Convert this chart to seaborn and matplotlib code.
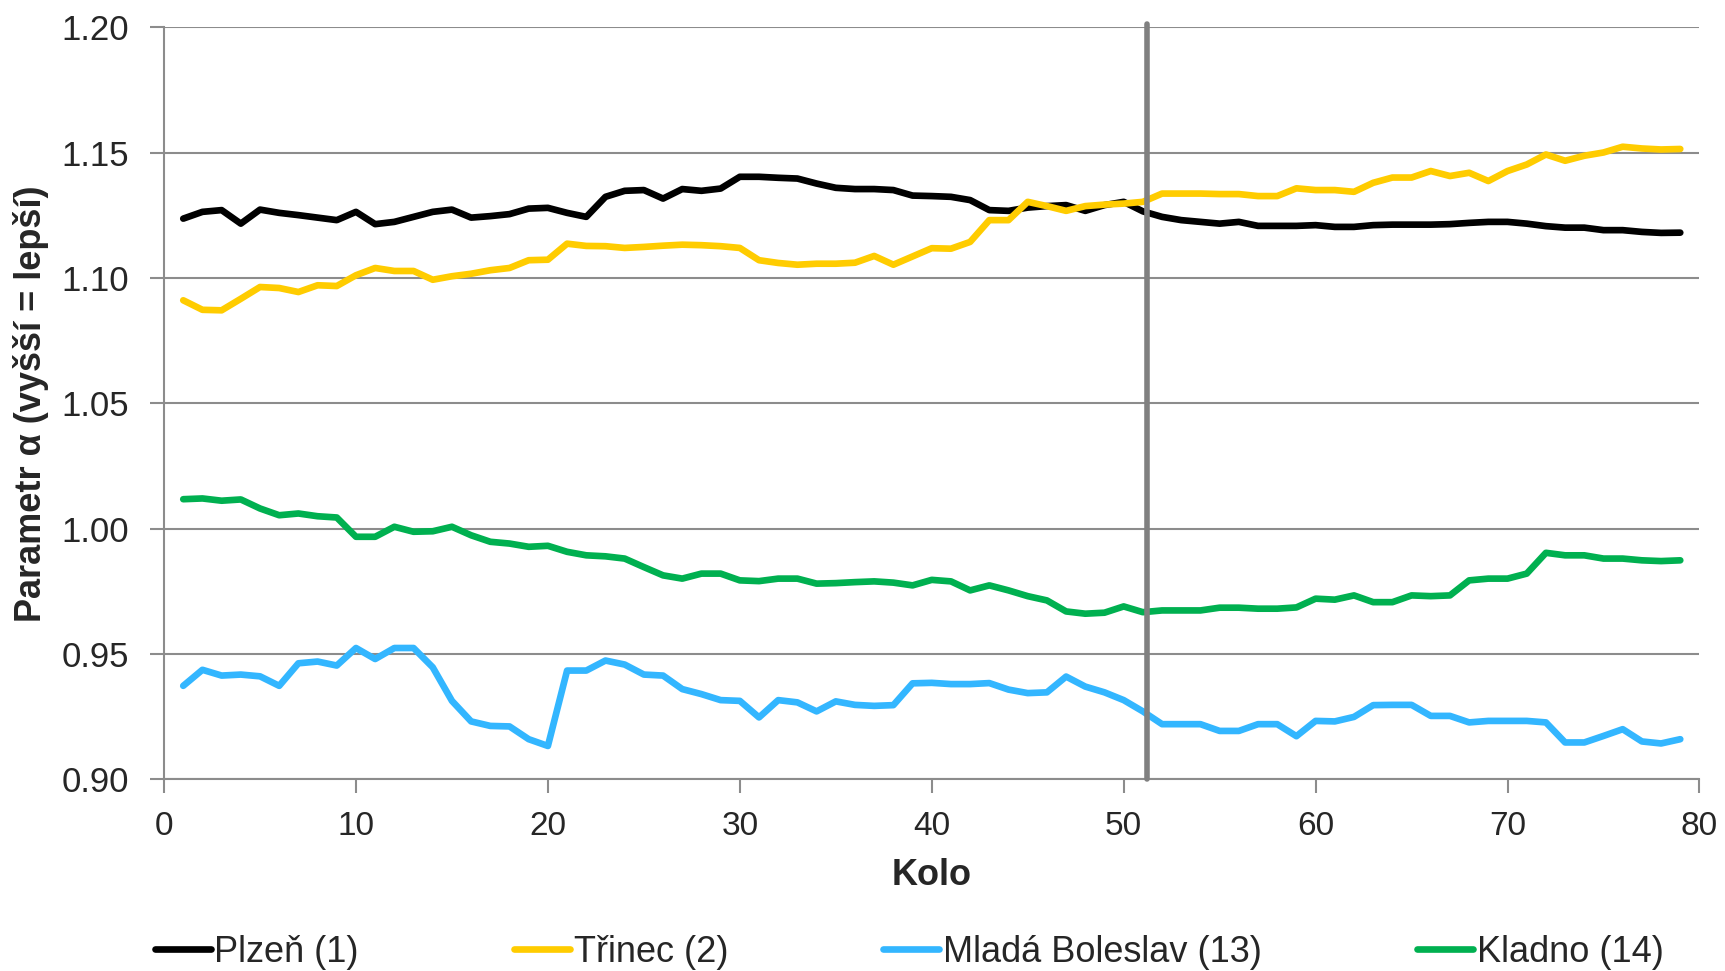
import pandas as pd
import seaborn as sns
import matplotlib.pyplot as plt

# kola 1..79
kolo = list(range(1, 80))

plzen = [1.1237, 1.1264, 1.1271, 1.1217, 1.1273, 1.1260, 1.1251, 1.1241, 1.1231, 1.1264,
         1.1215, 1.1224, 1.1244, 1.1264, 1.1273, 1.1241, 1.1247, 1.1255, 1.1277, 1.1280,
         1.1260, 1.1244, 1.1324, 1.1348, 1.1351, 1.1317, 1.1355, 1.1348, 1.1357, 1.1404,
         1.1404, 1.1400, 1.1397, 1.1377, 1.1360, 1.1355, 1.1355, 1.1351, 1.1329, 1.1327,
         1.1324, 1.1311, 1.1271, 1.1268, 1.1281, 1.1287, 1.1291, 1.1268, 1.1291, 1.1304,
         1.1266, 1.1244, 1.1231, 1.1224, 1.1217, 1.1224, 1.1208, 1.1208, 1.1208, 1.1211,
         1.1204, 1.1204, 1.1211, 1.1213, 1.1213, 1.1213, 1.1215, 1.1220, 1.1224, 1.1224,
         1.1217, 1.1207, 1.1201, 1.1201, 1.1191, 1.1191, 1.1184, 1.1180, 1.1181]

trinec = [1.0911, 1.0873, 1.0871, 1.0917, 1.0964, 1.0960, 1.0944, 1.0971, 1.0968, 1.1011,
          1.1040, 1.1028, 1.1028, 1.0993, 1.1007, 1.1017, 1.1031, 1.1040, 1.1071, 1.1073,
          1.1137, 1.1128, 1.1127, 1.1120, 1.1124, 1.1129, 1.1133, 1.1131, 1.1127, 1.1120,
          1.1071, 1.1060, 1.1053, 1.1057, 1.1057, 1.1061, 1.1088, 1.1053, 1.1086, 1.1119,
          1.1117, 1.1144, 1.1231, 1.1231, 1.1304, 1.1287, 1.1268, 1.1287, 1.1293, 1.1297,
          1.1304, 1.1337, 1.1337, 1.1337, 1.1335, 1.1335, 1.1327, 1.1327, 1.1358, 1.1351,
          1.1351, 1.1344, 1.1380, 1.1401, 1.1401, 1.1427, 1.1407, 1.1420, 1.1387, 1.1427,
          1.1453, 1.1493, 1.1468, 1.1488, 1.1501, 1.1524, 1.1517, 1.1513, 1.1515]

mlada_boleslav = [0.9372, 0.9436, 0.9413, 0.9417, 0.9410, 0.9372, 0.9462, 0.9469, 0.9453, 0.9523,
                  0.9479, 0.9523, 0.9523, 0.9446, 0.9312, 0.9230, 0.9212, 0.9210, 0.9159, 0.9132,
                  0.9433, 0.9433, 0.9473, 0.9457, 0.9417, 0.9413, 0.9359, 0.9339, 0.9315, 0.9312,
                  0.9246, 0.9315, 0.9306, 0.9270, 0.9310, 0.9296, 0.9292, 0.9295, 0.9382, 0.9384,
                  0.9379, 0.9379, 0.9383, 0.9357, 0.9343, 0.9346, 0.9409, 0.9369, 0.9346, 0.9315,
                  0.9270, 0.9219, 0.9219, 0.9219, 0.9192, 0.9192, 0.9219, 0.9219, 0.9171, 0.9232,
                  0.9230, 0.9248, 0.9295, 0.9296, 0.9296, 0.9252, 0.9252, 0.9226, 0.9232, 0.9232,
                  0.9232, 0.9226, 0.9146, 0.9146, 0.9172, 0.9199, 0.9150, 0.9142, 0.9159]

kladno = [1.0117, 1.0120, 1.0111, 1.0116, 1.0080, 1.0053, 1.0060, 1.0049, 1.0044, 0.9967,
          0.9967, 1.0007, 0.9987, 0.9989, 1.0007, 0.9973, 0.9947, 0.9940, 0.9927, 0.9931,
          0.9907, 0.9893, 0.9889, 0.9880, 0.9846, 0.9813, 0.9800, 0.9820, 0.9820, 0.9793,
          0.9790, 0.9800, 0.9800, 0.9780, 0.9782, 0.9786, 0.9789, 0.9784, 0.9773, 0.9795,
          0.9789, 0.9753, 0.9773, 0.9753, 0.9730, 0.9713, 0.9669, 0.9660, 0.9664, 0.9689,
          0.9666, 0.9673, 0.9673, 0.9673, 0.9684, 0.9684, 0.9680, 0.9680, 0.9685, 0.9720,
          0.9716, 0.9733, 0.9706, 0.9706, 0.9733, 0.9730, 0.9733, 0.9793, 0.9800, 0.9800,
          0.9820, 0.9903, 0.9893, 0.9893, 0.9880, 0.9880, 0.9873, 0.9870, 0.9873]

tymy = ["Plzeň (1)", "Třinec (2)", "Mladá Boleslav (13)", "Kladno (14)"]
barvy = ["#000000", "#FFCC00", "#33B6FF", "#00B050"]
hodnoty = [plzen, trinec, mlada_boleslav, kladno]

x_ticks = [0, 10, 20, 30, 40, 50, 60, 70, 80]
y_ticks = [0.90, 0.95, 1.00, 1.05, 1.10, 1.15, 1.20]
predel = 51.2  # svisla cara

df = pd.concat([pd.DataFrame({"Kolo": kolo, "alpha": h, "Tym": t})
                for t, h in zip(tymy, hodnoty)], ignore_index=True)

sns.set_style("white")
plt.rcParams['font.family'] = ['Liberation Sans', 'DejaVu Sans']

fig = plt.figure(figsize=(17.25, 9.71), dpi=100)
ax = fig.add_axes([0.0951, 0.1977, 0.8901, 0.7740])

sns.lineplot(data=df, x="Kolo", y="alpha", hue="Tym", hue_order=tymy,
             palette=barvy, lw=4.8, solid_capstyle='round', ax=ax, zorder=2)

ax.axvline(predel, color="#808080", lw=4, ymax=1.005, clip_on=False, zorder=3)

ax.set_xlim(0, 80)
ax.set_ylim(0.9, 1.2)
ax.set_xticks(x_ticks)
ax.set_yticks(y_ticks)
ax.set_yticklabels([f"{v:.2f}" for v in y_ticks])
ax.yaxis.grid(True, color="#8c8c8c", lw=1.5, zorder=0)
ax.set_axisbelow(True)

for s in ["top", "right"]:
    ax.spines[s].set_visible(False)
for s in ["left", "bottom"]:
    ax.spines[s].set_color("#8c8c8c")
    ax.spines[s].set_linewidth(1.5)

ax.tick_params(axis="y", direction="out", length=10, width=1.5, color="#8c8c8c",
               labelsize=25, pad=15, left=True)
ax.tick_params(axis="x", direction="out", length=10, width=1.5, color="#8c8c8c",
               labelsize=24, pad=13, bottom=True)

ax.set_xlabel("Kolo", fontsize=26, fontweight="bold")
ax.xaxis.label.set_va("center")
ax.xaxis.set_label_coords(0.5, -0.128)
ax.set_ylabel("Parametr α (vyšší = lepší)", fontsize=26, fontweight="bold")
ax.yaxis.label.set_va("center")
ax.yaxis.set_label_coords(-0.0866, 0.5)

handles, labels = ax.get_legend_handles_labels()
ax.get_legend().remove()
fig.legend(handles, labels, loc="center", bbox_to_anchor=(0.527, 0.019), ncol=4,
           frameon=False, fontsize=26, handlelength=1.55, handletextpad=0.1,
           columnspacing=4.3, borderpad=0, borderaxespad=0)

plt.savefig("out.png", dpi=100)
